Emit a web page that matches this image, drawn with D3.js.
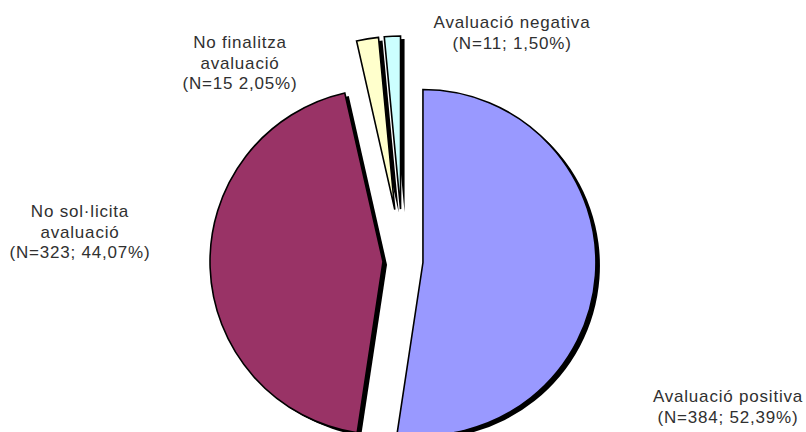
<!DOCTYPE html>
<html>
<head>
<meta charset="utf-8">
<script src="https://cdn.jsdelivr.net/npm/d3@7"></script>
<style>
  body { margin: 0; background: #fff; }
  svg { display: block; }
  .lbl { font-family: "Liberation Sans", Arial, sans-serif; font-size: 17px; letter-spacing: 0.8px; fill: #303030; }
</style>
</head>
<body>
<div id="chart"></div>
<script>
// data
const categories = ["Avaluació positiva", "No sol·licita avaluació", "No finalitza avaluació", "Avaluació negativa"]
const counts = [384, 323, 15, 11]
const percents = ["52,39%", "44,07%", "2,05%", "1,50%"]
const labelLines = [
    ["Avaluació positiva", "(N=384; 52,39%)"],
    ["No sol·licita", "avaluació", "(N=323; 44,07%)"],
    ["No finalitza", "avaluació", "(N=15 2,05%)"],
    ["Avaluació negativa", "(N=11; 1,50%)"]
]

const makeChart = () => {
    const w = 806
    const h = 432
    const cx = 403
    const cy = 261
    const r = 173

    // styling per slice
    const colors = ["#9999ff", "#993366", "#ffffcc", "#ccffff"]
    const explode = [20, 20, 52, 52]
    const labelPos = [[728, 402], [80, 217], [240, 48], [512, 28]]
    const lineH = 20.5

    const svg = d3.select('#chart')
        .append('svg')
        .attr('width', w)
        .attr('height', h)

    const pie = d3.pie()
        .sort(null)
        .value(d => d)

    const arcs = pie(counts)

    const arc = d3.arc()
        .innerRadius(0)
        .outerRadius(r)

    const offset = (d, i) => {
        const mid = (d.startAngle + d.endAngle) / 2
        return [cx + explode[i] * Math.sin(mid), cy - explode[i] * Math.cos(mid)]
    }

    // shadows
    svg.append('g')
        .selectAll('path')
        .data(arcs)
        .enter()
        .append('path')
        .attr('d', arc)
        .attr('fill', '#000')
        .attr('transform', (d, i) => {
            const p = offset(d, i)
            return "translate(" + (p[0] + 4) + "," + (p[1] + 3) + ")"
        })

    // slices
    svg.append('g')
        .selectAll('path')
        .data(arcs)
        .enter()
        .append('path')
        .attr('d', arc)
        .attr('fill', (d, i) => colors[i])
        .attr('stroke', '#000')
        .attr('stroke-width', 1.6)
        .attr('stroke-linejoin', 'miter')
        .attr('transform', (d, i) => {
            const p = offset(d, i)
            return "translate(" + p[0] + "," + p[1] + ")"
        })

    // labels
    const labels = svg.append('g')
    labelLines.forEach((lines, i) => {
        const t = labels.append('text')
            .attr('class', 'lbl')
            .attr('text-anchor', 'middle')
        lines.forEach((line, j) => {
            t.append('tspan')
                .attr('x', labelPos[i][0])
                .attr('y', labelPos[i][1] + j * lineH)
                .text(line)
        })
    })
}

makeChart()
</script>
</body>
</html>
